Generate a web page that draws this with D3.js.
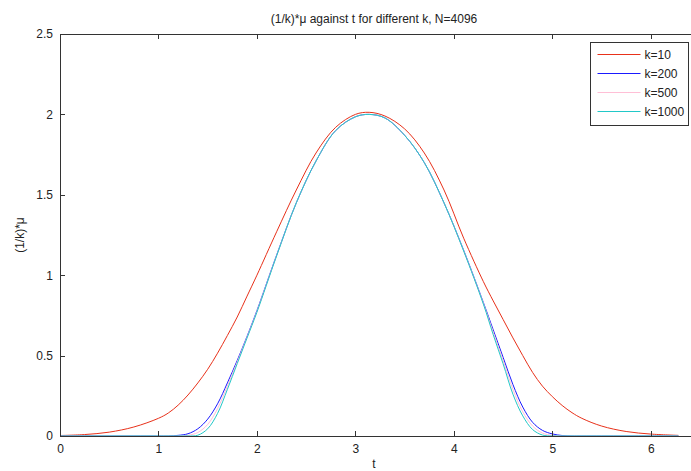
<!DOCTYPE html>
<html>
<head>
<meta charset="utf-8">
<script src="https://cdn.jsdelivr.net/npm/d3@7"></script>
<style>
  body { margin: 0; background: #fff; }
  svg { display: block; font-family: "Liberation Sans", Arial, sans-serif; }
</style>
</head>
<body>
<div id="chart"></div>
<script>
//DATA
var tValues = [0, 0.25, 0.5, 0.75, 1.0, 1.1, 1.2, 1.3, 1.4, 1.5, 1.6, 1.7, 1.8, 1.9, 2.0,
  2.2, 2.4, 2.6, 2.8, 3.0, 3.14, 3.3, 3.5, 3.7, 3.9, 4.1, 4.3, 4.4, 4.5, 4.6, 4.7, 4.8,
  4.9, 5.0, 5.1, 5.2, 5.3, 5.5, 5.75, 6.0, 6.28];

var k10 = [0.003, 0.009, 0.024, 0.056, 0.11, 0.143, 0.192, 0.255, 0.33, 0.415, 0.515, 0.625, 0.74, 0.87, 1.0,
  1.27, 1.53, 1.76, 1.92, 2.0, 2.013, 1.99, 1.91, 1.76, 1.53, 1.23, 0.96, 0.84, 0.725, 0.61, 0.5, 0.395,
  0.31, 0.245, 0.19, 0.145, 0.11, 0.062, 0.028, 0.012, 0.004];

var k200 = [0, 0, 0, 0, 0, 0, 0.004, 0.014, 0.045, 0.105, 0.2, 0.33, 0.47, 0.62, 0.78,
  1.125, 1.45, 1.71, 1.9, 1.985, 2.0, 1.978, 1.87, 1.7, 1.45, 1.155, 0.83, 0.66, 0.49, 0.32, 0.18, 0.085,
  0.035, 0.013, 0.003, 0, 0, 0, 0, 0, 0];

var k500 = [0, 0, 0, 0, 0, 0, 0, 0.004, 0.022, 0.072, 0.17, 0.31, 0.46, 0.615, 0.775,
  1.122, 1.45, 1.71, 1.9, 1.985, 2.0, 1.978, 1.87, 1.7, 1.45, 1.152, 0.825, 0.645, 0.47, 0.29, 0.15, 0.062,
  0.018, 0.004, 0, 0, 0, 0, 0, 0, 0];

var k1000 = [0, 0, 0, 0, 0, 0, 0, 0, 0.005, 0.045, 0.14, 0.29, 0.45, 0.61, 0.77,
  1.12, 1.45, 1.71, 1.9, 1.985, 2.0, 1.978, 1.87, 1.7, 1.45, 1.15, 0.82, 0.63, 0.45, 0.26, 0.125, 0.04,
  0.006, 0, 0, 0, 0, 0, 0, 0, 0];

var seriesNames = ["k=10", "k=200", "k=500", "k=1000"];
var seriesColors = ["#e8311a", "#1a1aff", "#ffbfd6", "#22c8c8"];

var xTicks = [0, 1, 2, 3, 4, 5, 6];
var yTicks = [0, 0.5, 1, 1.5, 2, 2.5];

var series = [k10, k200, k500, k1000].map(function(vals, i) {
  return {
    name: seriesNames[i],
    color: seriesColors[i],
    points: vals.map(function(v, j) { return {t: tValues[j], y: v}; })
  };
});

//SVG
var svgW = 691, svgH = 471;
var margin = {top: 34, left: 60};
var plotW = 640, plotH = 402;

var svg = d3.select("#chart").append("svg")
  .attr("width", svgW)
  .attr("height", svgH);

//SCALES
var xScale = d3.scaleLinear().domain([0, 6.5]).range([0, plotW]);
var yScale = d3.scaleLinear().domain([0, 2.5]).range([plotH, 0]);

var g = svg.append("g")
  .attr("transform", "translate(" + margin.left + "," + margin.top + ")");

//LINES
var line = d3.line()
  .x(function(d) { return xScale(d.t); })
  .y(function(d) { return yScale(Math.max(0, d.y)); })
  .curve(d3.curveCatmullRom.alpha(0.5));

g.selectAll("path.series")
  .data(series)
  .enter().append("path")
  .attr("class", "series")
  .attr("fill", "none")
  .attr("stroke", function(d) { return d.color; })
  .attr("stroke-width", 1)
  .attr("d", function(d) { return line(d.points); });

//AXES (MATLAB STYLE, TICKS INSIDE)
var axisColor = "#333";
var tickLen = 5;

var xAxis = d3.axisBottom(xScale).tickValues(xTicks).tickSizeInner(-tickLen).tickSizeOuter(0).tickPadding(10)
  .tickFormat(d3.format("d"));
var yAxis = d3.axisLeft(yScale).tickValues(yTicks).tickSizeInner(-tickLen).tickSizeOuter(0).tickPadding(10)
  .tickFormat(function(d) { return d; });
var xAxisTop = d3.axisTop(xScale).tickValues(xTicks).tickSizeInner(-tickLen).tickSizeOuter(0).tickFormat("");

function styleAxis(sel) {
  sel.attr("shape-rendering", "crispEdges");
  sel.select(".domain").attr("stroke", axisColor);
  sel.selectAll(".tick line").attr("stroke", axisColor);
  sel.selectAll("text").attr("fill", "#222").style("font-size", "12px").style("font-family", "Liberation Sans, Arial, sans-serif");
}

g.append("g").attr("transform", "translate(0," + plotH + ")").call(xAxis).call(styleAxis)
  .selectAll("text").attr("dy", "0.6em");
g.append("g").call(yAxis).call(styleAxis)
  .selectAll("text").attr("dx", "3px");
g.append("g").call(xAxisTop).call(styleAxis);

//TITLE AND LABELS
var textColor = "#222";
svg.append("text")
  .attr("x", 374).attr("y", 23)
  .attr("text-anchor", "middle")
  .attr("fill", textColor)
  .style("font-size", "12px")
  .text("(1/k)*\u03bc against t for different k, N=4096");

svg.append("text")
  .attr("x", 374).attr("y", 468)
  .attr("text-anchor", "middle")
  .attr("fill", textColor)
  .style("font-size", "12px")
  .text("t");

svg.append("text")
  .attr("transform", "translate(24," + (margin.top + plotH / 2) + ") rotate(-90)")
  .attr("text-anchor", "middle")
  .attr("fill", textColor)
  .style("font-size", "12px")
  .text("(1/k)*\u03bc");

//LEGEND
var legend = svg.append("g").attr("transform", "translate(590.5,42.5)");
legend.append("rect")
  .attr("width", 98).attr("height", 83)
  .attr("fill", "#fff")
  .attr("stroke", axisColor);

var items = legend.selectAll("g.item")
  .data(series)
  .enter().append("g")
  .attr("class", "item")
  .attr("transform", function(d, i) { return "translate(0," + (12 + i * 19) + ")"; });

items.append("line")
  .attr("x1", 7).attr("x2", 50)
  .attr("stroke", function(d) { return d.color; })
  .attr("stroke-width", 1);

items.append("text")
  .attr("x", 54).attr("y", 4.5)
  .attr("fill", textColor)
  .style("font-size", "12px")
  .text(function(d) { return d.name; });
</script>
</body>
</html>
